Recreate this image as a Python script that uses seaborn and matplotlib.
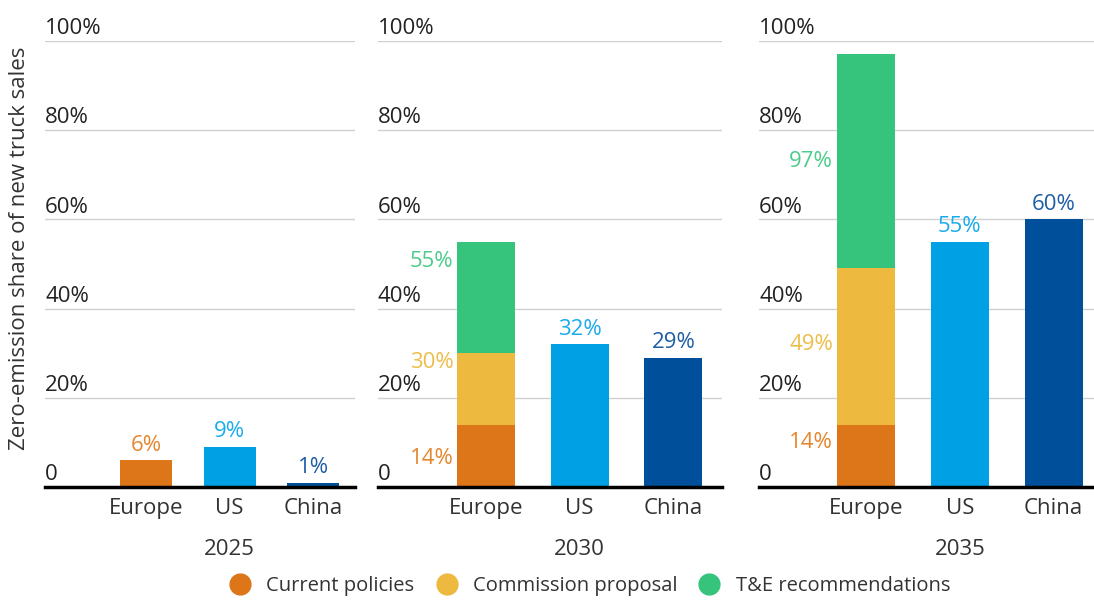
import numpy as np
import pandas as pd
import seaborn as sns
import matplotlib.pyplot as plt
from matplotlib.lines import Line2D

# data (Europe values are cumulative totals for the stacked bar)
years = ["2025", "2030", "2035"]
regions = ["Europe", "US", "China"]
current = {"2025": [6, 9, 1], "2030": [14, 32, 29], "2035": [14, 55, 60]}
commission = {"2025": None, "2030": 30, "2035": 49}
te_recs = {"2025": None, "2030": 55, "2035": 97}
yticks = [0, 20, 40, 60, 80, 100]
ytick_labels = ["0", "20%", "40%", "60%", "80%", "100%"]
legend_names = ["Current policies", "Commission proposal", "T&E recommendations"]

orange = "#DD7519"
yellow = "#EDB93E"
green = "#36C47C"
lblue = "#00A1E4"
dblue = "#004F9A"
region_colors = {"Europe": orange, "US": lblue, "China": dblue}
label_colors = {"Europe": "#E5862E", "US": "#1AABEA", "China": "#1F5DA5"}

sns.set_theme(style="white")
plt.rcParams["font.family"] = ["Open Sans", "DejaVu Sans"]
txt = "#333333"
fs = 16

fig = plt.figure(figsize=(10.94, 6.01), dpi=100)
W, H = 1094, 601
# panel pixel layout: left, right, x-limits
panels = [(45, 355, (-1.21, 2.50)), (378, 722, (-1.155, 2.52)), (759, 1094, (-1.14, 2.43))]
y0_px, y100_px = 487, 41
# where the Europe stack labels sit (in data units)
stack_label_y = {"2025": [None, None, None], "2030": [6.5, 28, 50.5], "2035": [10, 32, 73]}

for yr, (lpx, rpx, xl) in zip(years, panels):
    ax = fig.add_axes([lpx / W, (H - y0_px) / H, (rpx - lpx) / W, (y0_px - y100_px) / H])
    # stacked Europe: draw totals largest first
    if te_recs[yr] is not None:
        df = pd.DataFrame({"region": regions, "v": [te_recs[yr], np.nan, np.nan]})
        sns.barplot(data=df, x="region", y="v", order=regions, color=green,
                    width=0.62, linewidth=0, saturation=1, ax=ax)
        df = pd.DataFrame({"region": regions, "v": [commission[yr], np.nan, np.nan]})
        sns.barplot(data=df, x="region", y="v", order=regions, color=yellow,
                    width=0.62, linewidth=0, saturation=1, ax=ax)
    df = pd.DataFrame({"region": regions, "v": current[yr]})
    sns.barplot(data=df, x="region", y="v", order=regions, hue="region",
                palette=region_colors, legend=False, width=0.62, linewidth=0,
                saturation=1, ax=ax)

    ax.set_xlim(*xl)
    ax.set_ylim(0, 100)
    ax.set_yticks(yticks)
    ax.set_yticklabels([])
    ax.tick_params(axis="y", length=0)
    ax.tick_params(axis="x", length=0, pad=8, labelsize=fs, labelcolor=txt)
    ax.set_xlabel("")
    ax.set_ylabel("")
    ax.yaxis.grid(True, color="#D0D0D0", linewidth=1)
    ax.set_axisbelow(True)
    for s in ["top", "right", "left"]:
        ax.spines[s].set_visible(False)
    ax.spines["bottom"].set_color("black")
    ax.spines["bottom"].set_linewidth(2.5)
    ax.spines["bottom"].set_zorder(5)

    for v, lab in zip(yticks, ytick_labels):
        ax.text(0, v + 0.4, lab, transform=ax.get_yaxis_transform(), ha="left",
                va="bottom", fontsize=fs, color="#222222")

    ax.text(1, -0.14, yr, transform=ax.get_xaxis_transform(), ha="center",
            va="center", fontsize=fs, color=txt)

    # value labels
    if te_recs[yr] is not None:
        vals = [current[yr][0], commission[yr], te_recs[yr]]
        cols = ["#E5862E", "#EDBD4A", "#4CCB8A"]
        for v, c, ly in zip(vals, cols, stack_label_y[yr]):
            ax.text(-0.35, ly, f"{v}%", ha="right", va="center", fontsize=fs, color=c)
        start = 1
    else:
        start = 0
    for i in range(start, 3):
        v = current[yr][i]
        ax.text(i, v + 1.0, f"{v}%", ha="center", va="bottom", fontsize=fs,
                color=label_colors[regions[i]])

fig.text(20 / W, (H - 248) / H, "Zero-emission share of new truck sales", rotation=90,
         ha="center", va="center", fontsize=fs, color=txt)

handles = [Line2D([], [], marker="o", linestyle="", markersize=15, color=c)
           for c in [orange, yellow, green]]
fig.legend(handles, legend_names, loc="center", bbox_to_anchor=(585 / W, (H - 586) / H),
           ncol=3, frameon=False, fontsize=14.5, handletextpad=0.3, columnspacing=0.6,
           labelcolor=txt)

fig.savefig("out.png", dpi=100)
